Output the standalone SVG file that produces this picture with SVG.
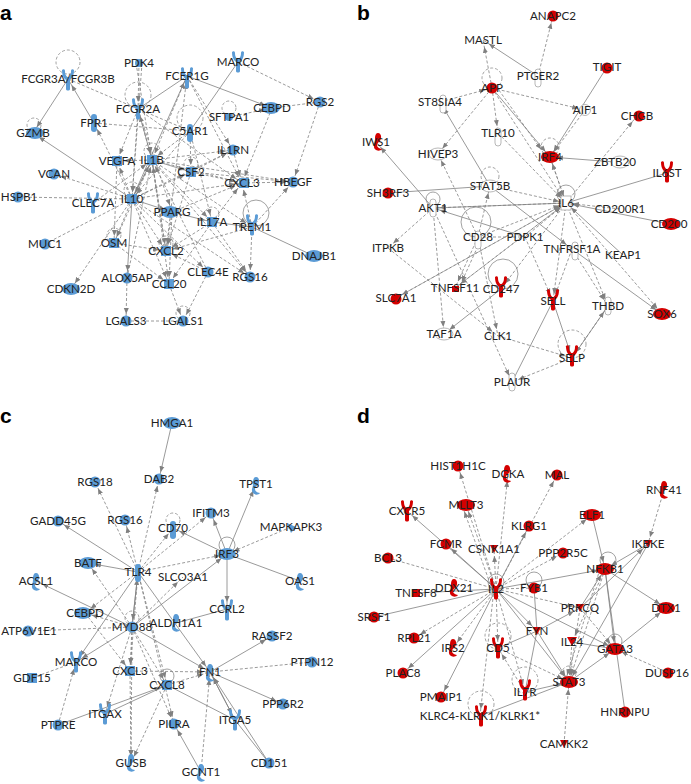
<svg xmlns="http://www.w3.org/2000/svg" xmlns:xlink="http://www.w3.org/1999/xlink" width="691" height="784" viewBox="0 0 691 784">
<style>
.s,.d,.n{stroke:#808080;stroke-width:.8;fill:none}
.s,.d{marker-end:url(#ar)}
.d,.nd{stroke-dasharray:3 2}
.nd{stroke:#808080;stroke-width:.8;fill:none}
.lp{fill:none;stroke:#8a8a8a;stroke-width:.8;stroke-dasharray:3 2}
.ls{fill:none;stroke:#8a8a8a;stroke-width:.8}
.b{fill:#5b9bd5}
.r{fill:#d40000}
.w{fill:#fff;stroke:#9a9a9a;stroke-width:.7}
.t{font-family:Lato,"Liberation Sans",sans-serif;font-size:11.6px;fill:#222;text-anchor:middle}
.pl{font-family:"Liberation Sans",Arial,sans-serif;font-size:21px;font-weight:bold;fill:#000}
</style>
<defs>
<marker id="ar" markerUnits="userSpaceOnUse" viewBox="0 0 6 6" markerWidth="6" markerHeight="6" refX="13" refY="3" orient="auto"><path d="M0,0.5 L6,3 L0,5.5 z" fill="#808080"/></marker>
<circle id="C" r="5.5"/>
<ellipse id="E" rx="9" ry="6"/>
<rect id="S" x="-5" y="-5" width="10" height="10"/>
<rect id="P" x="-3" y="-9" width="6" height="18" rx="3"/>
<path id="Y" d="M-6,-10 C-6,-3 -3,-1 -2,0 L-2,9 C-2,11 2,11 2,9 L2,0 C3,-1 6,-3 6,-10 C5,-11 3,-11 3,-9 C3,-5 1,-3 0,-3 C-1,-3 -3,-5 -3,-9 C-3,-11 -5,-11 -6,-10 Z"/>
<path id="H" d="M0,-9 C4,-9 4,-2 1,0 C-2,2 -2,6 4,7 C2,10 -5,9 -4,3 C-3,0 -3,-2 -3,-4 C-3,-7 -2,-9 0,-9 Z"/>
</defs>
<rect width="691" height="784" fill="#fff"/>
<text class="pl" x="0" y="20">a</text>
<text class="pl" x="357" y="20">b</text>
<text class="pl" x="0" y="423">c</text>
<text class="pl" x="357" y="423">d</text>

<g id="connectors">
<!-- panel a -->
<line class="s" x1="68" y1="79" x2="33" y2="133"/>
<line class="s" x1="94" y1="123" x2="68" y2="79"/>
<line class="nd" x1="68" y1="79" x2="190" y2="131"/>
<line class="d" x1="139" y1="63" x2="138" y2="109"/>
<line class="d" x1="142" y1="63" x2="132" y2="199"/>
<line class="d" x1="136" y1="63" x2="152" y2="160"/>
<line class="s" x1="187" y1="76" x2="272" y2="108"/>
<line class="n" x1="187" y1="76" x2="138" y2="109"/>
<line class="d" x1="187" y1="76" x2="152" y2="160"/>
<line class="s" x1="132" y1="199" x2="187" y2="76"/>
<line class="d" x1="187" y1="76" x2="233" y2="150"/>
<line class="d" x1="187" y1="76" x2="242" y2="183"/>
<line class="d" x1="238" y1="62" x2="320" y2="102"/>
<line class="n" x1="238" y1="62" x2="190" y2="131"/>
<line class="d" x1="320" y1="102" x2="293" y2="182"/>
<line class="nd" x1="320" y1="102" x2="272" y2="108"/>
<line class="d" x1="272" y1="108" x2="242" y2="183"/>
<line class="d" x1="229" y1="117" x2="272" y2="108"/>
<line class="nd" x1="94" y1="123" x2="190" y2="131"/>
<line class="d" x1="138" y1="109" x2="152" y2="160"/>
<line class="d" x1="138" y1="109" x2="132" y2="199"/>
<line class="d" x1="138" y1="109" x2="172" y2="212"/>
<line class="d" x1="138" y1="109" x2="242" y2="183"/>
<line class="d" x1="138" y1="109" x2="117" y2="161"/>
<line class="d" x1="190" y1="131" x2="132" y2="199"/>
<line class="d" x1="190" y1="131" x2="152" y2="160"/>
<line class="d" x1="190" y1="131" x2="191" y2="172"/>
<line class="d" x1="190" y1="131" x2="212" y2="222"/>
<line class="s" x1="132" y1="199" x2="33" y2="133"/>
<line class="d" x1="132" y1="199" x2="54" y2="174"/>
<line class="nd" x1="132" y1="199" x2="17" y2="197"/>
<line class="nd" x1="132" y1="199" x2="45" y2="244"/>
<line class="d" x1="132" y1="199" x2="71" y2="289"/>
<line class="s" x1="132" y1="199" x2="172" y2="212"/>
<line class="s" x1="172" y1="212" x2="212" y2="222"/>
<line class="s" x1="212" y1="222" x2="252" y2="227"/>
<line class="n" x1="252" y1="227" x2="314" y2="256"/>
<line class="d" x1="132" y1="199" x2="114" y2="243"/>
<line class="s" x1="132" y1="199" x2="127" y2="278"/>
<line class="d" x1="132" y1="199" x2="166" y2="251"/>
<line class="d" x1="132" y1="199" x2="169" y2="284"/>
<line class="d" x1="132" y1="199" x2="208" y2="272"/>
<line class="d" x1="132" y1="199" x2="250" y2="277"/>
<line class="d" x1="132" y1="199" x2="242" y2="183"/>
<line class="d" x1="132" y1="199" x2="233" y2="150"/>
<line class="d" x1="132" y1="199" x2="191" y2="172"/>
<line class="s" x1="132" y1="199" x2="152" y2="160"/>
<line class="d" x1="132" y1="199" x2="117" y2="161"/>
<line class="d" x1="132" y1="199" x2="94" y2="123"/>
<line class="d" x1="152" y1="160" x2="233" y2="150"/>
<line class="s" x1="152" y1="160" x2="191" y2="172"/>
<line class="d" x1="152" y1="160" x2="242" y2="183"/>
<line class="d" x1="152" y1="160" x2="293" y2="182"/>
<line class="d" x1="152" y1="160" x2="166" y2="251"/>
<line class="d" x1="152" y1="160" x2="169" y2="284"/>
<line class="d" x1="152" y1="160" x2="212" y2="222"/>
<line class="d" x1="152" y1="160" x2="252" y2="227"/>
<line class="d" x1="152" y1="160" x2="114" y2="243"/>
<line class="d" x1="152" y1="160" x2="117" y2="161"/>
<line class="d" x1="152" y1="160" x2="132" y2="199"/>
<line class="d" x1="152" y1="160" x2="250" y2="277"/>
<line class="s" x1="152" y1="160" x2="138" y2="109"/>
<line class="d" x1="191" y1="172" x2="242" y2="183"/>
<line class="d" x1="191" y1="172" x2="233" y2="150"/>
<line class="d" x1="191" y1="172" x2="166" y2="251"/>
<line class="d" x1="191" y1="172" x2="293" y2="182"/>
<line class="d" x1="212" y1="222" x2="242" y2="183"/>
<line class="d" x1="212" y1="222" x2="166" y2="251"/>
<line class="d" x1="212" y1="222" x2="169" y2="284"/>
<line class="d" x1="212" y1="222" x2="250" y2="277"/>
<line class="d" x1="252" y1="227" x2="250" y2="277"/>
<line class="d" x1="252" y1="227" x2="242" y2="183"/>
<line class="d" x1="252" y1="227" x2="293" y2="182"/>
<line class="d" x1="252" y1="227" x2="166" y2="251"/>
<line class="d" x1="114" y1="243" x2="166" y2="251"/>
<line class="d" x1="114" y1="243" x2="169" y2="284"/>
<line class="d" x1="208" y1="272" x2="166" y2="251"/>
<line class="d" x1="127" y1="278" x2="126" y2="321"/>
<line class="nd" x1="126" y1="321" x2="183" y2="321"/>
<line class="d" x1="169" y1="284" x2="183" y2="321"/>
<line class="d" x1="208" y1="272" x2="183" y2="321"/>
<line class="d" x1="172" y1="212" x2="166" y2="251"/>
<line class="d" x1="172" y1="212" x2="169" y2="284"/>
<line class="d" x1="117" y1="161" x2="114" y2="243"/>
<line class="d" x1="233" y1="150" x2="242" y2="183"/>
<line class="d" x1="242" y1="183" x2="293" y2="182"/>
<line class="d" x1="172" y1="212" x2="242" y2="183"/>
<line class="d" x1="93" y1="203" x2="152" y2="160"/>
<line class="d" x1="166" y1="251" x2="152" y2="160"/>
<line class="d" x1="166" y1="251" x2="187" y2="76"/>
<line class="d" x1="127" y1="278" x2="152" y2="160"/>
<line class="d" x1="208" y1="272" x2="152" y2="160"/>
<!-- panel b -->
<line class="d" x1="538" y1="76" x2="553" y2="16"/>
<line class="s" x1="538" y1="76" x2="483" y2="40"/>
<line class="d" x1="492" y1="88" x2="483" y2="40"/>
<line class="d" x1="440" y1="102" x2="492" y2="88"/>
<line class="d" x1="492" y1="88" x2="585" y2="110"/>
<line class="d" x1="492" y1="88" x2="498" y2="133"/>
<line class="d" x1="492" y1="88" x2="438" y2="154"/>
<line class="s" x1="492" y1="88" x2="550" y2="157"/>
<line class="d" x1="492" y1="88" x2="566" y2="203"/>
<line class="d" x1="496" y1="86" x2="545" y2="155"/>
<line class="s" x1="607" y1="67" x2="550" y2="157"/>
<line class="d" x1="585" y1="110" x2="550" y2="157"/>
<line class="d" x1="566" y1="203" x2="637" y2="116"/>
<line class="s" x1="615" y1="162" x2="550" y2="157"/>
<line class="n" x1="667" y1="173" x2="566" y2="203"/>
<line class="s" x1="433" y1="208" x2="376" y2="142"/>
<line class="n" x1="388" y1="193" x2="490" y2="186"/>
<line class="s" x1="490" y1="186" x2="440" y2="102"/>
<line class="d" x1="478" y1="237" x2="438" y2="154"/>
<line class="d" x1="490" y1="186" x2="566" y2="203"/>
<line class="s" x1="490" y1="186" x2="572" y2="249"/>
<line class="nd" x1="433" y1="208" x2="566" y2="203"/>
<line class="d" x1="620" y1="209" x2="566" y2="203"/>
<line class="s" x1="670" y1="224" x2="566" y2="203"/>
<line class="s" x1="623" y1="255" x2="566" y2="203"/>
<line class="d" x1="566" y1="203" x2="455" y2="288"/>
<line class="d" x1="566" y1="203" x2="553" y2="301"/>
<line class="d" x1="566" y1="203" x2="608" y2="306"/>
<line class="d" x1="566" y1="203" x2="662" y2="314"/>
<line class="d" x1="566" y1="203" x2="501" y2="289"/>
<line class="d" x1="566" y1="203" x2="396" y2="298"/>
<line class="s" x1="566" y1="203" x2="433" y2="208"/>
<line class="d" x1="433" y1="208" x2="388" y2="248"/>
<line class="d" x1="433" y1="208" x2="444" y2="334"/>
<line class="nd" x1="478" y1="237" x2="525" y2="237"/>
<line class="d" x1="478" y1="237" x2="455" y2="288"/>
<line class="d" x1="482" y1="237" x2="459" y2="288"/>
<line class="d" x1="478" y1="237" x2="498" y2="336"/>
<line class="d" x1="478" y1="237" x2="490" y2="186"/>
<line class="d" x1="572" y1="249" x2="553" y2="301"/>
<line class="d" x1="572" y1="249" x2="608" y2="306"/>
<line class="s" x1="572" y1="249" x2="662" y2="314"/>
<line class="s" x1="553" y1="301" x2="572" y2="358"/>
<line class="n" x1="553" y1="301" x2="512" y2="382"/>
<line class="d" x1="608" y1="306" x2="572" y2="358"/>
<line class="s" x1="572" y1="358" x2="608" y2="306"/>
<line class="d" x1="498" y1="336" x2="572" y2="358"/>
<line class="d" x1="572" y1="358" x2="512" y2="382"/>
<line class="d" x1="433" y1="208" x2="512" y2="382"/>
<line class="s" x1="501" y1="289" x2="444" y2="334"/>
<line class="d" x1="525" y1="237" x2="553" y2="301"/>
<line class="s" x1="525" y1="237" x2="433" y2="208"/>
<line class="d" x1="498" y1="133" x2="566" y2="203"/>
<line class="d" x1="550" y1="157" x2="566" y2="203"/>
<line class="d" x1="566" y1="203" x2="550" y2="157"/>
<line class="d" x1="525" y1="237" x2="566" y2="203"/>
<line class="d" x1="478" y1="237" x2="566" y2="203"/>
<line class="d" x1="388" y1="248" x2="498" y2="336"/>
<line class="d" x1="396" y1="298" x2="566" y2="203"/>
<line class="d" x1="455" y1="288" x2="566" y2="203"/>
<!-- panel c -->
<line class="s" x1="172" y1="423" x2="159" y2="479"/>
<line class="d" x1="138" y1="572" x2="159" y2="479"/>
<line class="d" x1="138" y1="572" x2="95" y2="482"/>
<line class="d" x1="138" y1="572" x2="125" y2="520"/>
<line class="s" x1="138" y1="572" x2="58" y2="521"/>
<line class="d" x1="138" y1="572" x2="173" y2="528"/>
<line class="d" x1="138" y1="572" x2="211" y2="513"/>
<line class="d" x1="138" y1="572" x2="227" y2="554"/>
<line class="s" x1="138" y1="572" x2="88" y2="563"/>
<line class="s" x1="227" y1="554" x2="173" y2="528"/>
<line class="s" x1="227" y1="554" x2="256" y2="484"/>
<line class="s" x1="227" y1="554" x2="211" y2="513"/>
<line class="n" x1="227" y1="554" x2="300" y2="581"/>
<line class="s" x1="227" y1="554" x2="227" y2="609"/>
<line class="d" x1="291" y1="527" x2="227" y2="554"/>
<line class="s" x1="132" y1="627" x2="227" y2="554"/>
<line class="d" x1="132" y1="627" x2="183" y2="577"/>
<line class="s" x1="132" y1="627" x2="138" y2="572"/>
<line class="s" x1="138" y1="572" x2="132" y2="627"/>
<line class="d" x1="132" y1="627" x2="85" y2="613"/>
<line class="nd" x1="28" y1="631" x2="132" y2="627"/>
<line class="s" x1="132" y1="627" x2="76" y2="662"/>
<line class="nd" x1="32" y1="678" x2="76" y2="662"/>
<line class="d" x1="58" y1="725" x2="76" y2="662"/>
<line class="d" x1="132" y1="627" x2="130" y2="671"/>
<line class="d" x1="132" y1="627" x2="167" y2="685"/>
<line class="d" x1="132" y1="627" x2="105" y2="714"/>
<line class="d" x1="132" y1="627" x2="131" y2="763"/>
<line class="d" x1="132" y1="627" x2="174" y2="724"/>
<line class="s" x1="132" y1="627" x2="210" y2="672"/>
<line class="n" x1="176" y1="623" x2="227" y2="609"/>
<line class="s" x1="210" y1="672" x2="272" y2="636"/>
<line class="nd" x1="210" y1="672" x2="312" y2="662"/>
<line class="s" x1="210" y1="672" x2="283" y2="704"/>
<line class="s" x1="210" y1="672" x2="235" y2="720"/>
<line class="s" x1="235" y1="720" x2="210" y2="672"/>
<line class="s" x1="269" y1="763" x2="210" y2="672"/>
<line class="n" x1="269" y1="763" x2="235" y2="720"/>
<line class="d" x1="201" y1="772" x2="210" y2="672"/>
<line class="s" x1="201" y1="772" x2="174" y2="724"/>
<line class="d" x1="130" y1="671" x2="210" y2="672"/>
<line class="n" x1="167" y1="685" x2="235" y2="720"/>
<line class="s" x1="58" y1="725" x2="167" y2="685"/>
<line class="d" x1="130" y1="671" x2="131" y2="763"/>
<line class="d" x1="167" y1="685" x2="131" y2="763"/>
<line class="s" x1="138" y1="572" x2="210" y2="672"/>
<line class="d" x1="138" y1="572" x2="85" y2="613"/>
<line class="s" x1="132" y1="627" x2="36" y2="581"/>
<line class="d" x1="167" y1="685" x2="210" y2="672"/>
<line class="d" x1="138" y1="572" x2="130" y2="671"/>
<line class="d" x1="138" y1="572" x2="167" y2="685"/>
<line class="d" x1="138" y1="572" x2="174" y2="724"/>
<line class="s" x1="138" y1="572" x2="76" y2="662"/>
<line class="n" x1="105" y1="714" x2="167" y2="685"/>
<line class="d" x1="85" y1="613" x2="130" y2="671"/>
<line class="d" x1="132" y1="627" x2="88" y2="563"/>
<!-- panel d -->
<line class="d" x1="496" y1="589" x2="458" y2="466"/>
<line class="d" x1="496" y1="589" x2="508" y2="474"/>
<line class="d" x1="496" y1="589" x2="557" y2="475"/>
<line class="d" x1="496" y1="589" x2="466" y2="505"/>
<line class="d" x1="492" y1="589" x2="462" y2="505"/>
<line class="s" x1="496" y1="589" x2="529" y2="526"/>
<line class="s" x1="496" y1="589" x2="407" y2="511"/>
<line class="s" x1="496" y1="589" x2="446" y2="544"/>
<line class="d" x1="496" y1="589" x2="494" y2="549"/>
<line class="nd" x1="496" y1="589" x2="388" y2="558"/>
<line class="d" x1="496" y1="589" x2="592" y2="515"/>
<line class="d" x1="496" y1="589" x2="563" y2="553"/>
<line class="s" x1="496" y1="589" x2="605" y2="569"/>
<line class="n" x1="496" y1="589" x2="416" y2="593"/>
<line class="nd" x1="496" y1="589" x2="534" y2="588"/>
<line class="n" x1="496" y1="589" x2="374" y2="617"/>
<line class="d" x1="496" y1="589" x2="414" y2="638"/>
<line class="d" x1="496" y1="589" x2="453" y2="648"/>
<line class="s" x1="496" y1="589" x2="403" y2="673"/>
<line class="s" x1="496" y1="589" x2="441" y2="697"/>
<line class="d" x1="496" y1="589" x2="498" y2="648"/>
<line class="d" x1="494" y1="589" x2="480" y2="716"/>
<line class="d" x1="496" y1="589" x2="525" y2="692"/>
<line class="s" x1="496" y1="589" x2="537" y2="631"/>
<line class="s" x1="496" y1="589" x2="569" y2="682"/>
<line class="s" x1="496" y1="589" x2="615" y2="649"/>
<line class="d" x1="496" y1="589" x2="580" y2="608"/>
<line class="d" x1="664" y1="490" x2="648" y2="544"/>
<line class="s" x1="592" y1="515" x2="605" y2="569"/>
<line class="s" x1="605" y1="569" x2="666" y2="608"/>
<line class="s" x1="580" y1="608" x2="648" y2="544"/>
<line class="s" x1="648" y1="544" x2="605" y2="569"/>
<line class="n" x1="605" y1="569" x2="625" y2="712"/>
<line class="s" x1="605" y1="569" x2="615" y2="649"/>
<line class="d" x1="605" y1="569" x2="572" y2="642"/>
<line class="d" x1="605" y1="569" x2="569" y2="682"/>
<line class="d" x1="600" y1="569" x2="565" y2="682"/>
<line class="s" x1="580" y1="608" x2="605" y2="569"/>
<line class="d" x1="580" y1="608" x2="615" y2="649"/>
<line class="d" x1="580" y1="608" x2="569" y2="682"/>
<line class="s" x1="615" y1="649" x2="666" y2="608"/>
<line class="d" x1="669" y1="673" x2="615" y2="649"/>
<line class="s" x1="569" y1="682" x2="615" y2="649"/>
<line class="n" x1="534" y1="588" x2="537" y2="631"/>
<line class="s" x1="537" y1="631" x2="580" y2="608"/>
<line class="n" x1="537" y1="631" x2="498" y2="648"/>
<line class="n" x1="537" y1="631" x2="525" y2="692"/>
<line class="s" x1="537" y1="631" x2="569" y2="682"/>
<line class="d" x1="572" y1="642" x2="569" y2="682"/>
<line class="n" x1="572" y1="642" x2="615" y2="649"/>
<line class="d" x1="498" y1="648" x2="569" y2="682"/>
<line class="s" x1="525" y1="692" x2="569" y2="682"/>
<line class="n" x1="480" y1="716" x2="569" y2="682"/>
<line class="d" x1="564" y1="744" x2="569" y2="682"/>
<line class="d" x1="525" y1="692" x2="498" y2="648"/>
<line class="s" x1="648" y1="544" x2="569" y2="682"/>
</g>

<g id="loops">
<circle class="lp" cx="68" cy="62" r="12"/>
<circle class="lp" cx="34" cy="125" r="7"/>
<circle class="lp" cx="138" cy="95" r="13"/>
<circle class="lp" cx="190" cy="118" r="13"/>
<circle class="lp" cx="229" cy="108" r="7"/>
<circle class="lp" cx="152" cy="151" r="8"/>
<circle class="lp" cx="191" cy="164" r="7"/>
<circle class="lp" cx="132" cy="190" r="8"/>
<circle class="lp" cx="212" cy="214" r="7"/>
<circle class="ls" cx="256" cy="213" r="13"/>
<circle class="lp" cx="166" cy="243" r="7"/>
<circle class="lp" cx="114" cy="235" r="7"/>
<circle class="lp" cx="183" cy="313" r="7"/>
<circle class="lp" cx="492" cy="78" r="10"/>
<circle class="lp" cx="490" cy="176" r="9"/>
<circle class="lp" cx="550" cy="147" r="9"/>
<circle class="ls" cx="566" cy="194" r="9"/>
<circle class="ls" cx="433" cy="199" r="7"/>
<circle class="ls" cx="476" cy="222" r="15"/>
<circle class="ls" cx="503" cy="274" r="15"/>
<circle class="lp" cx="572" cy="344" r="14"/>
<circle class="lp" cx="173" cy="520" r="7"/>
<circle class="ls" cx="227" cy="545" r="8"/>
<circle class="lp" cx="132" cy="618" r="7"/>
<circle class="ls" cx="167" cy="676" r="7"/>
<circle class="ls" cx="496" cy="582" r="8"/>
<circle class="ls" cx="534" cy="580" r="8"/>
<circle class="ls" cx="608" cy="560" r="8"/>
<circle class="lp" cx="498" cy="636" r="13"/>
<circle class="lp" cx="525" cy="680" r="13"/>
<circle class="lp" cx="481" cy="704" r="13"/>
<circle class="ls" cx="615" cy="641" r="7"/>
<circle class="lp" cx="569" cy="673" r="7"/>
</g>

<g id="panel-a">
<g id="a-FCGR3A"><use href="#Y" class="b" x="68" y="80"/><text class="t" x="68" y="83">FCGR3A/FCGR3B</text></g>
<g id="a-PDK4"><circle class="b" cx="139" cy="63" r="4"/><text class="t" x="139" y="67">PDK4</text></g>
<g id="a-FCER1G"><use href="#Y" class="b" x="187" y="78"/><text class="t" x="187" y="80">FCER1G</text></g>
<g id="a-MARCO"><use href="#Y" class="b" x="238" y="62"/><text class="t" x="238" y="66">MARCO</text></g>
<g id="a-FCGR2A"><use href="#Y" class="b" x="138" y="109"/><text class="t" x="138" y="113">FCGR2A</text></g>
<g id="a-CEBPD"><use href="#E" class="b" x="271" y="108"/><text class="t" x="272" y="112">CEBPD</text></g>
<g id="a-RGS2"><use href="#C" class="b" x="320" y="102"/><text class="t" x="320" y="106">RGS2</text></g>
<g id="a-FPR1"><use href="#P" class="b" x="94" y="123"/><text class="t" x="94" y="127">FPR1</text></g>
<g id="a-SFTPA1"><circle class="b" cx="229" cy="117" r="4"/><text class="t" x="229" y="121">SFTPA1</text></g>
<g id="a-GZMB"><use href="#E" class="b" x="35" y="133"/><text class="t" x="33" y="137">GZMB</text></g>
<g id="a-C5AR1"><use href="#P" class="b" x="190" y="133"/><text class="t" x="190" y="135">C5AR1</text></g>
<g id="a-IL1RN"><use href="#C" class="b" x="233" y="150"/><text class="t" x="233" y="154">IL1RN</text></g>
<g id="a-VEGFA"><use href="#S" class="b" x="117" y="161"/><text class="t" x="117" y="165">VEGFA</text></g>
<g id="a-IL1B"><use href="#S" class="b" x="152" y="160"/><text class="t" x="152" y="164">IL1B</text></g>
<g id="a-VCAN"><use href="#C" class="b" x="54" y="174"/><text class="t" x="54" y="178">VCAN</text></g>
<g id="a-CSF2"><use href="#S" class="b" x="191" y="172"/><text class="t" x="191" y="176">CSF2</text></g>
<g id="a-CXCL3"><use href="#S" class="b" x="244" y="183"/><text class="t" x="242" y="187">CXCL3</text></g>
<g id="a-HBEGF"><use href="#C" class="b" x="293" y="182"/><text class="t" x="293" y="186">HBEGF</text></g>
<g id="a-HSPB1"><use href="#C" class="b" x="18" y="197"/><text class="t" x="19" y="201">HSPB1</text></g>
<g id="a-CLEC7A"><use href="#Y" class="b" x="93" y="203"/><text class="t" x="93" y="207">CLEC7A</text></g>
<g id="a-IL10"><use href="#S" class="b" x="132" y="199"/><text class="t" x="132" y="203">IL10</text></g>
<g id="a-PPARG"><use href="#E" class="b" x="170" y="212"/><text class="t" x="172" y="216">PPARG</text></g>
<g id="a-IL17A"><use href="#S" class="b" x="212" y="222"/><text class="t" x="212" y="226">IL17A</text></g>
<g id="a-TREM1"><use href="#Y" class="b" x="252" y="225"/><text class="t" x="252" y="231">TREM1</text></g>
<g id="a-MUC1"><use href="#C" class="b" x="45" y="244"/><text class="t" x="45" y="248">MUC1</text></g>
<g id="a-OSM"><use href="#S" class="b" x="114" y="243"/><text class="t" x="114" y="247">OSM</text></g>
<g id="a-CXCL2"><use href="#S" class="b" x="166" y="251"/><text class="t" x="166" y="255">CXCL2</text></g>
<g id="a-DNAJB1"><use href="#E" class="b" x="314" y="256"/><text class="t" x="314" y="260">DNAJB1</text></g>
<g id="a-CLEC4E"><use href="#C" class="b" x="208" y="272"/><text class="t" x="208" y="276">CLEC4E</text></g>
<g id="a-RGS16"><use href="#C" class="b" x="250" y="277"/><text class="t" x="250" y="281">RGS16</text></g>
<g id="a-ALOX5AP"><use href="#C" class="b" x="127" y="278"/><text class="t" x="127" y="282">ALOX5AP</text></g>
<g id="a-CCL20"><use href="#S" class="b" x="169" y="284"/><text class="t" x="169" y="288">CCL20</text></g>
<g id="a-CDKN2D"><use href="#E" class="b" x="71" y="289"/><text class="t" x="71" y="293">CDKN2D</text></g>
<g id="a-LGALS3"><use href="#C" class="b" x="126" y="321"/><text class="t" x="126" y="325">LGALS3</text></g>
<g id="a-LGALS1"><use href="#C" class="b" x="183" y="321"/><text class="t" x="183" y="325">LGALS1</text></g>
</g>

<g id="panel-b">
<g id="b-ANAPC2"><use href="#C" class="r" x="553" y="16"/><text class="t" x="553" y="20">ANAPC2</text></g>
<g id="b-MASTL"><text class="t" x="483" y="44">MASTL</text></g>
<g id="b-PTGER2"><use href="#P" class="w" x="538" y="78"/><text class="t" x="538" y="80">PTGER2</text></g>
<g id="b-TIGIT"><use href="#C" class="r" x="607" y="68"/><text class="t" x="607" y="71">TIGIT</text></g>
<g id="b-APP"><use href="#C" class="r" x="492" y="88"/><text class="t" x="492" y="92">APP</text></g>
<g id="b-ST8SIA4"><use href="#P" class="w" x="443" y="104"/><text class="t" x="440" y="106">ST8SIA4</text></g>
<g id="b-AIF1"><use href="#C" class="w" x="585" y="110"/><text class="t" x="585" y="114">AIF1</text></g>
<g id="b-CHGB"><use href="#C" class="r" x="639" y="116"/><text class="t" x="637" y="120">CHGB</text></g>
<g id="b-TLR10"><use href="#P" class="w" x="498" y="137"/><text class="t" x="498" y="137">TLR10</text></g>
<g id="b-IWS1"><use href="#H" class="r" x="378" y="142"/><text class="t" x="376" y="146">IWS1</text></g>
<g id="b-HIVEP3"><use href="#E" class="w" x="438" y="154"/><text class="t" x="438" y="158">HIVEP3</text></g>
<g id="b-IRF4"><use href="#E" class="r" x="550" y="157"/><text class="t" x="550" y="161">IRF4</text></g>
<g id="b-ZBTB20"><use href="#E" class="w" x="620" y="162"/><text class="t" x="615" y="166">ZBTB20</text></g>
<g id="b-IL6ST"><use href="#Y" class="r" x="667" y="172"/><text class="t" x="667" y="177">IL6ST</text></g>
<g id="b-SH3RF3"><use href="#C" class="r" x="388" y="193"/><text class="t" x="388" y="197">SH3RF3</text></g>
<g id="b-STAT5B"><use href="#E" class="w" x="490" y="186"/><text class="t" x="490" y="190">STAT5B</text></g>
<g id="b-IL6"><rect class="w" x="561" y="196" width="10" height="14"/><text class="t" x="566" y="207">IL6</text></g>
<g id="b-AKT1"><use href="#P" class="w" x="433" y="208"/><text class="t" x="433" y="212">AKT1</text></g>
<g id="b-CD200R1"><text class="t" x="620" y="213">CD200R1</text></g>
<g id="b-CD200"><use href="#E" class="r" x="671" y="224"/><text class="t" x="669" y="228">CD200</text></g>
<g id="b-CD28"><use href="#P" class="w" x="478" y="240"/><text class="t" x="478" y="241">CD28</text></g>
<g id="b-PDPK1"><text class="t" x="525" y="241">PDPK1</text></g>
<g id="b-ITPKB"><text class="t" x="388" y="252">ITPKB</text></g>
<g id="b-TNFRSF1A"><use href="#P" class="w" x="575" y="251"/><text class="t" x="572" y="253">TNFRSF1A</text></g>
<g id="b-KEAP1"><text class="t" x="623" y="259">KEAP1</text></g>
<g id="b-TNFSF11"><rect class="r" x="452" y="286" width="7" height="6"/><text class="t" x="455" y="292">TNFSF11</text></g>
<g id="b-CD247"><use href="#Y" class="r" x="501" y="287"/><text class="t" x="501" y="293">CD247</text></g>
<g id="b-SLC7A1"><use href="#C" class="r" x="396" y="299"/><text class="t" x="396" y="302">SLC7A1</text></g>
<g id="b-SELL"><use href="#Y" class="r" x="553" y="300"/><text class="t" x="553" y="305">SELL</text></g>
<g id="b-THBD"><use href="#P" class="w" x="608" y="306"/><text class="t" x="608" y="310">THBD</text></g>
<g id="b-SOX6"><use href="#E" class="r" x="662" y="314"/><text class="t" x="662" y="318">SOX6</text></g>
<g id="b-TAF1A"><use href="#E" class="w" x="444" y="334"/><text class="t" x="444" y="338">TAF1A</text></g>
<g id="b-CLK1"><text class="t" x="498" y="340">CLK1</text></g>
<g id="b-SELP"><use href="#Y" class="r" x="572" y="356"/><text class="t" x="572" y="362">SELP</text></g>
<g id="b-PLAUR"><use href="#P" class="w" x="512" y="382"/><text class="t" x="512" y="386">PLAUR</text></g>
</g>

<g id="panel-c">
<g id="c-HMGA1"><use href="#E" class="b" x="172" y="423"/><text class="t" x="172" y="427">HMGA1</text></g>
<g id="c-DAB2"><use href="#C" class="b" x="159" y="479"/><text class="t" x="159" y="483">DAB2</text></g>
<g id="c-RGS18"><use href="#C" class="b" x="95" y="482"/><text class="t" x="95" y="486">RGS18</text></g>
<g id="c-TPST1"><use href="#H" class="b" x="256" y="486"/><text class="t" x="256" y="488">TPST1</text></g>
<g id="c-IFITM3"><use href="#C" class="b" x="211" y="513"/><text class="t" x="211" y="517">IFITM3</text></g>
<g id="c-GADD45G"><use href="#C" class="b" x="58" y="521"/><text class="t" x="58" y="525">GADD45G</text></g>
<g id="c-RGS16"><use href="#C" class="b" x="125" y="520"/><text class="t" x="125" y="524">RGS16</text></g>
<g id="c-CD70"><use href="#P" class="b" x="173" y="530"/><text class="t" x="173" y="532">CD70</text></g>
<g id="c-MAPKAPK3"><path class="b" d="M287,523 L296,527 L291,533 Z"/><text class="t" x="291" y="531">MAPKAPK3</text></g>
<g id="c-IRF3"><use href="#E" class="b" x="227" y="554"/><text class="t" x="227" y="558">IRF3</text></g>
<g id="c-BATF"><use href="#E" class="b" x="88" y="563"/><text class="t" x="88" y="567">BATF</text></g>
<g id="c-TLR4"><use href="#P" class="b" x="138" y="573"/><text class="t" x="138" y="576">TLR4</text></g>
<g id="c-SLCO3A1"><text class="t" x="183" y="581">SLCO3A1</text></g>
<g id="c-ACSL1"><use href="#H" class="b" x="36" y="582"/><text class="t" x="36" y="585">ACSL1</text></g>
<g id="c-OAS1"><use href="#H" class="b" x="300" y="582"/><text class="t" x="300" y="585">OAS1</text></g>
<g id="c-CCRL2"><use href="#Y" class="b" x="227" y="610"/><text class="t" x="227" y="613">CCRL2</text></g>
<g id="c-CEBPD"><use href="#E" class="b" x="83" y="613"/><text class="t" x="85" y="617">CEBPD</text></g>
<g id="c-MYD88"><use href="#C" class="b" x="132" y="627"/><text class="t" x="132" y="631">MYD88</text></g>
<g id="c-ALDH1A1"><use href="#H" class="b" x="176" y="623"/><text class="t" x="176" y="627">ALDH1A1</text></g>
<g id="c-ATP6V1E1"><use href="#C" class="b" x="28" y="631"/><text class="t" x="29" y="635">ATP6V1E1</text></g>
<g id="c-RASSF2"><use href="#C" class="b" x="272" y="636"/><text class="t" x="272" y="640">RASSF2</text></g>
<g id="c-MARCO"><use href="#Y" class="b" x="76" y="662"/><text class="t" x="76" y="666">MARCO</text></g>
<g id="c-PTPN12"><use href="#C" class="b" x="312" y="662"/><text class="t" x="312" y="666">PTPN12</text></g>
<g id="c-CXCL3"><use href="#S" class="b" x="130" y="671"/><text class="t" x="130" y="675">CXCL3</text></g>
<g id="c-FN1"><use href="#H" class="b" x="210" y="673"/><text class="t" x="210" y="676">FN1</text></g>
<g id="c-GDF15"><use href="#S" class="b" x="32" y="678"/><text class="t" x="32" y="682">GDF15</text></g>
<g id="c-CXCL8"><use href="#S" class="b" x="167" y="685"/><text class="t" x="167" y="689">CXCL8</text></g>
<g id="c-PPP6R2"><use href="#C" class="b" x="283" y="704"/><text class="t" x="283" y="708">PPP6R2</text></g>
<g id="c-ITGAX"><use href="#Y" class="b" x="105" y="714"/><text class="t" x="105" y="718">ITGAX</text></g>
<g id="c-ITGA5"><use href="#Y" class="b" x="235" y="720"/><text class="t" x="235" y="724">ITGA5</text></g>
<g id="c-PTPRE"><use href="#C" class="b" x="58" y="725"/><text class="t" x="58" y="729">PTPRE</text></g>
<g id="c-PILRA"><use href="#C" class="b" x="174" y="724"/><text class="t" x="174" y="728">PILRA</text></g>
<g id="c-GUSB"><use href="#H" class="b" x="131" y="763"/><text class="t" x="131" y="767">GUSB</text></g>
<g id="c-CD151"><use href="#C" class="b" x="269" y="763"/><text class="t" x="269" y="767">CD151</text></g>
<g id="c-GCNT1"><use href="#H" class="b" x="201" y="773"/><text class="t" x="201" y="776">GCNT1</text></g>
</g>

<g id="panel-d">
<g id="d-HIST1H1C"><use href="#C" class="r" x="458" y="466"/><text class="t" x="458" y="470">HIST1H1C</text></g>
<g id="d-DGKA"><use href="#H" class="r" x="507" y="474"/><text class="t" x="508" y="478">DGKA</text></g>
<g id="d-MAL"><use href="#C" class="r" x="557" y="475"/><text class="t" x="557" y="479">MAL</text></g>
<g id="d-RNF41"><use href="#H" class="r" x="664" y="490"/><text class="t" x="664" y="494">RNF41</text></g>
<g id="d-CXCR5"><use href="#Y" class="r" x="407" y="511"/><text class="t" x="407" y="515">CXCR5</text></g>
<g id="d-MLLT3"><use href="#E" class="r" x="466" y="505"/><text class="t" x="466" y="509">MLLT3</text></g>
<g id="d-ELF1"><use href="#E" class="r" x="592" y="515"/><text class="t" x="592" y="519">ELF1</text></g>
<g id="d-KLRG1"><use href="#C" class="r" x="529" y="526"/><text class="t" x="529" y="530">KLRG1</text></g>
<g id="d-FCMR"><use href="#C" class="r" x="446" y="544"/><text class="t" x="446" y="548">FCMR</text></g>
<g id="d-CSNK1A1"><path class="r" d="M490,545 L498,545 L494,553 Z"/><text class="t" x="494" y="553">CSNK1A1</text></g>
<g id="d-IKBKE"><path class="r" d="M644,540 L652,540 L648,548 Z"/><text class="t" x="648" y="548">IKBKE</text></g>
<g id="d-BCL3"><use href="#C" class="r" x="388" y="558"/><text class="t" x="388" y="562">BCL3</text></g>
<g id="d-PPP2R5C"><use href="#C" class="r" x="563" y="553"/><text class="t" x="563" y="557">PPP2R5C</text></g>
<g id="d-NFKB1"><use href="#E" class="r" x="605" y="569"/><text class="t" x="605" y="573">NFKB1</text></g>
<g id="d-TNFSF8"><rect class="r" x="412" y="589" width="8" height="8"/><text class="t" x="416" y="597">TNFSF8</text></g>
<g id="d-DDX21"><use href="#H" class="r" x="454" y="588"/><text class="t" x="454" y="592">DDX21</text></g>
<g id="d-IL2"><use href="#Y" class="r" x="496" y="589"/><text class="t" x="496" y="593">IL2</text></g>
<g id="d-FYB1"><use href="#C" class="r" x="534" y="588"/><text class="t" x="534" y="592">FYB1</text></g>
<g id="d-SRSF1"><use href="#C" class="r" x="374" y="617"/><text class="t" x="374" y="621">SRSF1</text></g>
<g id="d-PRKCQ"><path class="r" d="M576,604 L584,604 L580,612 Z"/><text class="t" x="580" y="612">PRKCQ</text></g>
<g id="d-DTX1"><use href="#E" class="r" x="666" y="608"/><text class="t" x="666" y="612">DTX1</text></g>
<g id="d-RPL21"><use href="#C" class="r" x="414" y="638"/><text class="t" x="414" y="642">RPL21</text></g>
<g id="d-FYN"><path class="r" d="M533,627 L541,627 L537,635 Z"/><text class="t" x="537" y="635">FYN</text></g>
<g id="d-IL24"><path class="r" d="M567,637 L577,637 L572,646 Z"/><text class="t" x="572" y="646">IL24</text></g>
<g id="d-IRS2"><use href="#H" class="r" x="453" y="648"/><text class="t" x="453" y="652">IRS2</text></g>
<g id="d-CD5"><use href="#Y" class="r" x="498" y="648"/><text class="t" x="498" y="652">CD5</text></g>
<g id="d-GATA3"><use href="#E" class="r" x="615" y="649"/><text class="t" x="615" y="653">GATA3</text></g>
<g id="d-PLAC8"><use href="#C" class="r" x="403" y="673"/><text class="t" x="403" y="677">PLAC8</text></g>
<g id="d-DUSP16"><use href="#C" class="r" x="668" y="673"/><text class="t" x="667" y="677">DUSP16</text></g>
<g id="d-STAT3"><use href="#E" class="r" x="569" y="682"/><text class="t" x="569" y="686">STAT3</text></g>
<g id="d-IL7R"><use href="#Y" class="r" x="525" y="690"/><text class="t" x="525" y="696">IL7R</text></g>
<g id="d-PMAIP1"><use href="#C" class="r" x="441" y="697"/><text class="t" x="441" y="701">PMAIP1</text></g>
<g id="d-KLRC4"><use href="#Y" class="r" x="481" y="716"/><text class="t" x="480" y="720">KLRC4-KLRK1/KLRK1*</text></g>
<g id="d-HNRNPU"><use href="#C" class="r" x="625" y="712"/><text class="t" x="625" y="716">HNRNPU</text></g>
<g id="d-CAMKK2"><path class="r" d="M560,740 L568,740 L564,748 Z"/><text class="t" x="564" y="748">CAMKK2</text></g>
</g>
</svg>
